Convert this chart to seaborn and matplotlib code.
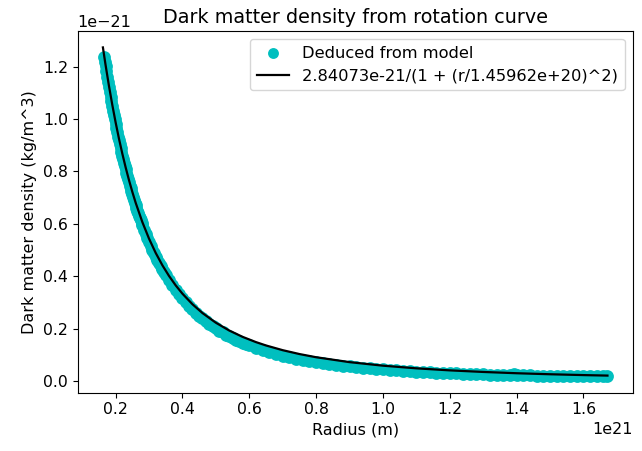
import numpy as np
import pandas as pd
import matplotlib
matplotlib.use("Agg")
import matplotlib.pyplot as plt
import seaborn as sns

# Data (radius in units of 1e21 m, density in units of 1e-21 kg/m^3)
radius_pts = [
    0.166, 0.168, 0.170, 0.1725, 0.175, 0.1775, 0.180, 0.1825, 0.185, 0.1875,
    0.190, 0.1925, 0.195, 0.1975, 0.200, 0.2025, 0.205, 0.2075, 0.210, 0.2125,
    0.215, 0.2175, 0.220, 0.2225, 0.225, 0.2275, 0.230, 0.2325, 0.235, 0.2375,
    0.240, 0.2425, 0.245, 0.2475, 0.250, 0.2525, 0.255, 0.2575, 0.260, 0.2625,
    0.265, 0.2675, 0.270, 0.2725, 0.275, 0.2775, 0.280, 0.285, 0.290, 0.295,
    0.300, 0.305, 0.310, 0.315, 0.320, 0.325, 0.330, 0.335, 0.340, 0.345,
    0.350, 0.360, 0.370, 0.380, 0.390, 0.400, 0.410, 0.420, 0.430, 0.440,
    0.450, 0.460, 0.470, 0.480, 0.490, 0.500, 0.510, 0.520, 0.530, 0.540,
    0.550, 0.560, 0.570, 0.580, 0.590, 0.600, 0.620, 0.640, 0.660, 0.680,
    0.700, 0.720, 0.740, 0.760, 0.780, 0.800, 0.820, 0.840, 0.860, 0.880,
    0.900, 0.920, 0.940, 0.960, 0.980, 1.000, 1.020, 1.040, 1.060, 1.080,
    1.100, 1.120, 1.140, 1.160, 1.180, 1.200, 1.220, 1.240, 1.260, 1.280,
    1.300, 1.320, 1.340, 1.360, 1.380, 1.391, 1.400, 1.420, 1.440, 1.460,
    1.480, 1.500, 1.520, 1.540, 1.560, 1.580, 1.600, 1.620, 1.640, 1.660,
    1.672,
]
density_pts = [
    1.237, 1.219, 1.202, 1.182, 1.161, 1.142, 1.123, 1.104, 1.085, 1.067,
    1.049, 1.032, 1.014, 0.998, 0.981, 0.965, 0.949, 0.933, 0.918, 0.904,
    0.889, 0.874, 0.860, 0.847, 0.833, 0.820, 0.808, 0.795, 0.782, 0.770,
    0.758, 0.746, 0.735, 0.724, 0.712, 0.702, 0.691, 0.681, 0.671, 0.661,
    0.650, 0.641, 0.631, 0.622, 0.613, 0.605, 0.595, 0.578, 0.562, 0.546,
    0.531, 0.516, 0.502, 0.488, 0.475, 0.462, 0.450, 0.438, 0.427, 0.415,
    0.405, 0.385, 0.366, 0.348, 0.331, 0.316, 0.301, 0.287, 0.274, 0.262,
    0.250, 0.240, 0.229, 0.219, 0.211, 0.202, 0.193, 0.186, 0.178, 0.171,
    0.165, 0.159, 0.153, 0.147, 0.142, 0.137, 0.127, 0.118, 0.110, 0.103,
    0.097, 0.091, 0.086, 0.081, 0.077, 0.072, 0.069, 0.065, 0.062, 0.059,
    0.057, 0.054, 0.052, 0.049, 0.048, 0.045, 0.044, 0.042, 0.040, 0.039,
    0.037, 0.035, 0.035, 0.033, 0.032, 0.031, 0.030, 0.029, 0.029, 0.028,
    0.026, 0.025, 0.025, 0.024, 0.023, 0.028, 0.023, 0.023, 0.022, 0.021,
    0.021, 0.021, 0.020, 0.020, 0.020, 0.020, 0.019, 0.020, 0.019, 0.020,
    0.021,
]

# Fitted curve values
radius_fit = [
    0.162, 0.17, 0.18, 0.19, 0.20, 0.21, 0.22, 0.23, 0.24, 0.25,
    0.26, 0.28, 0.30, 0.32, 0.34, 0.36, 0.38, 0.40, 0.43, 0.46,
    0.50, 0.54, 0.58, 0.62, 0.65, 0.70, 0.75, 0.80, 0.90, 1.00,
    1.10, 1.20, 1.30, 1.40, 1.50, 1.60, 1.672,
]
density_fit = [
    1.2728, 1.2055, 1.1269, 1.0543, 0.9872, 0.9253, 0.8683, 0.8156, 0.7670, 0.7222,
    0.6807, 0.6070, 0.5437, 0.4892, 0.4421, 0.4011, 0.3652, 0.3338, 0.2935, 0.2599,
    0.2231, 0.1934, 0.1692, 0.1492, 0.1364, 0.1184, 0.1037, 0.0915, 0.0728, 0.0593,
    0.0492, 0.0414, 0.0354, 0.0305, 0.0266, 0.0234, 0.0215,
]

label_pts = "Deduced from model"
label_fit = "2.84073e-21/(1 + (r/1.45962e+20)^2)"

R_UNIT = 1e21
RHO_UNIT = 1e-21

df_pts = pd.DataFrame({
    "r": np.array(radius_pts) * R_UNIT,
    "rho": np.array(density_pts) * RHO_UNIT,
})
df_fit = pd.DataFrame({
    "r": np.array(radius_fit) * R_UNIT,
    "rho": np.array(density_fit) * RHO_UNIT,
})

plt.rcParams["font.family"] = ["DejaVu Sans"]
plt.rcParams["font.size"] = 11.5

fig, ax = plt.subplots(figsize=(6.42, 4.51), dpi=100)
fig.subplots_adjust(left=0.121, right=0.9855, bottom=0.1293, top=0.9313)

sns.scatterplot(data=df_pts, x="r", y="rho", color="c", s=85, linewidth=0,
                label=label_pts, ax=ax, zorder=2)
sns.lineplot(data=df_fit, x="r", y="rho", color="k", linewidth=1.6,
             label=label_fit, ax=ax, sort=True, estimator=None, zorder=3)

ax.set_title("Dark matter density from rotation curve", fontsize=13.8)
ax.set_xlabel("Radius (m)", fontsize=11.5)
ax.set_ylabel("Dark matter density (kg/m^3)", fontsize=11.5)
ax.tick_params(labelsize=11.3)
ax.legend(loc="upper right", fontsize=11.7, markerscale=0.85)

fig.savefig("out.png", dpi=100)
